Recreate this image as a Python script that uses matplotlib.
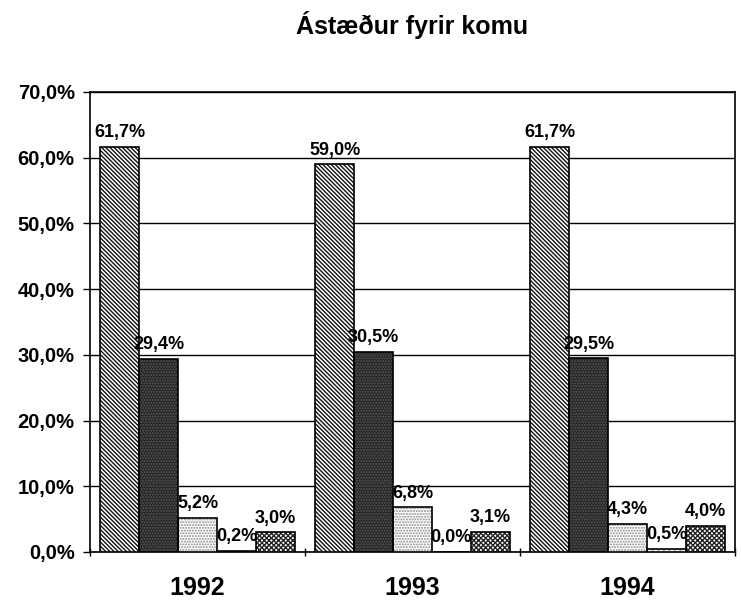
import matplotlib
matplotlib.use("Agg")
import matplotlib.pyplot as plt
import numpy as np
from matplotlib.ticker import FuncFormatter

title = "Ástæður fyrir komu"
years = ["1992", "1993", "1994"]
s1 = [61.7, 59.0, 61.7]
s2 = [29.4, 30.5, 29.5]
s3 = [5.2, 6.8, 4.3]
s4 = [0.2, 0.0, 0.5]
s5 = [3.0, 3.1, 4.0]
series = [s1, s2, s3, s4, s5]
yticks = [0, 10, 20, 30, 40, 50, 60, 70]

styles = [
    dict(face="white", hatch="\\" * 8, hcol="#111111"),
    dict(face="#262626", hatch="......", hcol="#555555"),
    dict(face="white", hatch="......", hcol="#8a8a8a"),
    dict(face="white", hatch="...", hcol="#b0b0b0"),
    dict(face="white", hatch="x" * 7, hcol="#222222"),
]

plt.rcParams['font.family'] = ['Liberation Sans', 'DejaVu Sans']
plt.rcParams['hatch.linewidth'] = 1.0

fig = plt.figure(figsize=(7.41, 6.02), dpi=100)
ax = fig.add_axes([90/741, 1-552/602, (735-90)/741, (552-92)/602])

x = np.arange(len(years))
bw = 0.181
n = len(series)
for i, (vals, st) in enumerate(zip(series, styles)):
    pos = x + (i - (n-1)/2) * bw
    ax.bar(pos, vals, bw, color=st["face"], hatch=st["hatch"],
           edgecolor=st["hcol"], linewidth=0, zorder=3)
    ax.bar(pos, vals, bw, facecolor="none", edgecolor="black",
           linewidth=1.2, zorder=4)
    for p, v in zip(pos, vals):
        ax.annotate(f"{v:.1f}%".replace(".", ","), (p, v), xytext=(0, 4),
                    textcoords="offset points", ha="center", va="bottom",
                    fontsize=13, fontweight="bold", zorder=5)

ax.set_xlim(-0.5, len(years)-0.5)
ax.set_ylim(0, 70)
ax.set_yticks(yticks)
ax.yaxis.set_major_formatter(FuncFormatter(lambda v, _: f"{v:.1f}%".replace(".", ",")))
ax.set_xticks(x)
ax.set_xticklabels(years)
ax.set_xticks(np.arange(len(years)+1) - 0.5, minor=True)
ax.tick_params(axis="x", which="major", length=0, labelsize=18, pad=17)
ax.tick_params(axis="x", which="minor", length=6, width=1, direction="inout")
ax.tick_params(axis="y", labelsize=14.5, length=5, width=1, direction="out", pad=6)
for lab in ax.get_xticklabels() + ax.get_yticklabels():
    lab.set_fontweight("bold")
ax.yaxis.grid(True, color="black", linewidth=1.0, zorder=0)
ax.set_axisbelow(True)
for sp in ax.spines.values():
    sp.set_linewidth(1.2)
    sp.set_color("black")

fig.text(412/741, 1-25/602, title, ha="center", va="center",
         fontsize=18, fontweight="bold")

fig.savefig("out.png", dpi=100)
